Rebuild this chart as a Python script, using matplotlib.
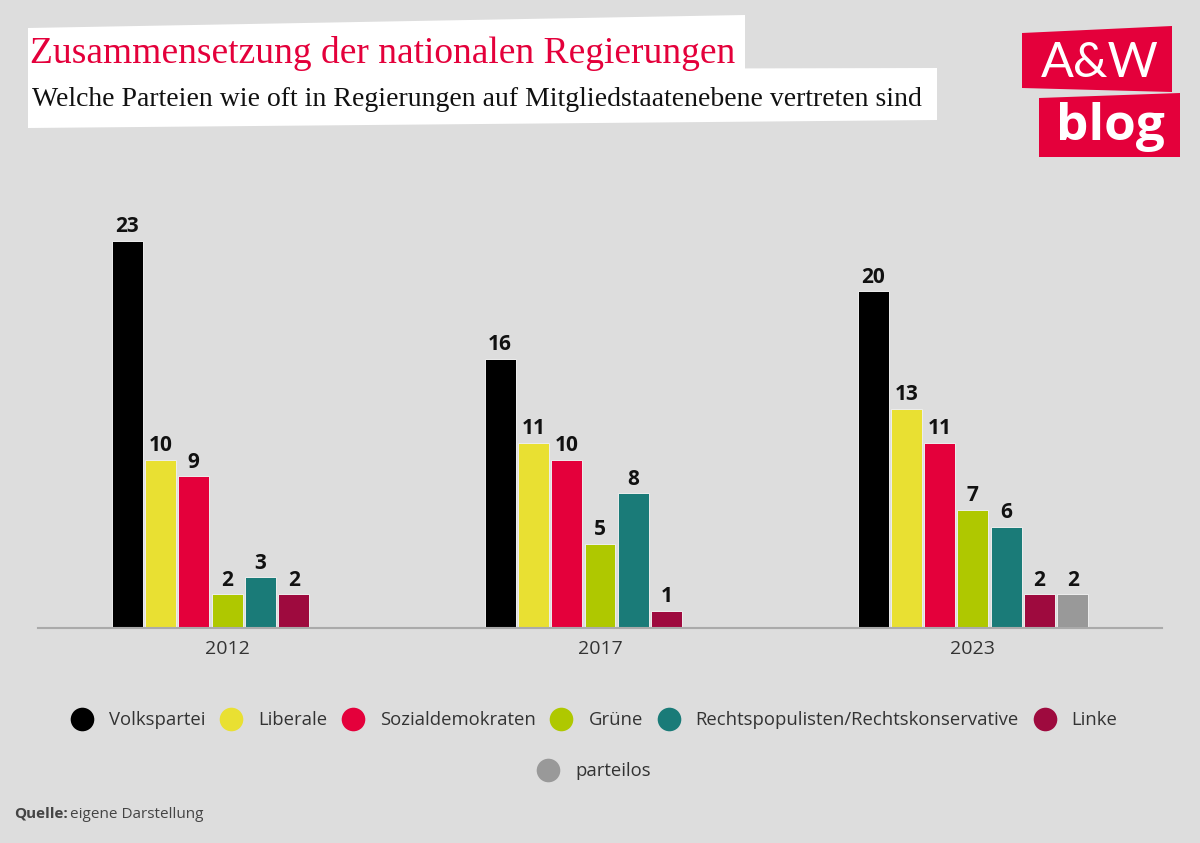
# Zusammensetzung der nationalen Regierungen - grouped bars
import matplotlib.pyplot as plt
from matplotlib.patches import Polygon
from matplotlib.lines import Line2D
import numpy as np

# data
years = ['2012', '2017', '2023']
parties = ['Volkspartei', 'Liberale', 'Sozialdemokraten', 'Grüne',
           'Rechtspopulisten/Rechtskonservative', 'Linke', 'parteilos']
volkspartei = [23, 16, 20]
liberale = [10, 11, 13]
sozialdemokraten = [9, 10, 11]
gruene = [2, 5, 7]
rechtspop = [3, 8, 6]
linke = [2, 1, 2]
parteilos = [0, 0, 2]
series = [volkspartei, liberale, sozialdemokraten, gruene, rechtspop, linke, parteilos]
colors = ['#000000', '#e9e032', '#e4003b', '#afc800', '#1a7b78', '#9e0a3e', '#999999']

bg = '#dddddd'
plt.rcParams['font.family'] = ['Open Sans', 'DejaVu Sans']

fig = plt.figure(figsize=(12, 8.43), dpi=100, facecolor=bg)

# overlay in pixel coords for header, logo, source
ov = fig.add_axes([0, 0, 1, 1], zorder=0)
ov.set_xlim(0, 1200)
ov.set_ylim(843, 0)
ov.axis('off')

ov.add_patch(Polygon([(28, 28), (745, 15), (745, 72), (28, 72)], closed=True,
                     facecolor='white', edgecolor='none'))
ov.add_patch(Polygon([(28, 70), (937, 68), (937, 120), (28, 128)], closed=True,
                     facecolor='white', edgecolor='none'))
ov.text(30, 63, 'Zusammensetzung der nationalen Regierungen', color='#e4003b',
        fontsize=27, family='Liberation Serif', va='baseline', ha='left')
ov.text(32, 106, 'Welche Parteien wie oft in Regierungen auf Mitgliedstaatenebene vertreten sind',
        color='#111111', fontsize=20, family='Liberation Serif', va='baseline', ha='left')

# logo
ov.add_patch(Polygon([(1022, 33), (1172, 26), (1172, 92), (1022, 88)], closed=True,
                     facecolor='#e4003b', edgecolor='none'))
ov.add_patch(Polygon([(1039, 98), (1180, 93), (1180, 157), (1039, 157)], closed=True,
                     facecolor='#e4003b', edgecolor='none'))
ov.text(1100, 63, 'A&W', color='white', fontsize=35, family='Lato', fontweight='normal',
        ha='center', va='center')
ov.text(1110, 127, 'blog', color='white', fontsize=37, family='Open Sans', fontweight='bold',
        ha='center', va='center')

# source
ov.text(14, 818, 'Quelle:', color='#444444', fontsize=11, fontweight='bold',
        ha='left', va='baseline')
ov.text(70, 818, 'eigene Darstellung', color='#444444', fontsize=11,
        ha='left', va='baseline')

# main chart
ax = fig.add_axes([38 / 1200, (843 - 628) / 843, 1124 / 1200, 468 / 843], zorder=1)
ax.patch.set_visible(False)

x = np.arange(len(years))
slot = 0.0893
for i, (vals, c) in enumerate(zip(series, colors)):
    pos = x + (i - 3) * slot
    for p, v in zip(pos, vals):
        if v == 0:
            continue
        ax.bar(p, v, width=slot * 0.93, color=c, edgecolor='#eeeeee', linewidth=0.7)
        ax.text(p, v + 0.22, str(v), ha='center', va='bottom', fontsize=15,
                fontweight='bold', color='#111111')

ax.set_xlim(-0.507, 2.507)
ax.set_ylim(0, 27.8)
ax.set_xticks(x)
ax.set_xticklabels(years, fontsize=14, color='#333333')
ax.tick_params(axis='x', length=0, pad=9)
ax.set_yticks([])
for s in ['top', 'right', 'left']:
    ax.spines[s].set_visible(False)
ax.spines['bottom'].set_color('#aaaaaa')
ax.spines['bottom'].set_linewidth(1.5)

# legend
handles = [Line2D([], [], marker='o', linestyle='none', markersize=17,
                  markerfacecolor=c, markeredgecolor='none') for c in colors]
leg_kw = dict(loc='center', frameon=False, fontsize=13.3, handlelength=1.0,
              handletextpad=0.96, columnspacing=0.9, labelcolor='#333333')
fig.legend(handles[:6], parties[:6], bbox_to_anchor=(595 / 1200, 1 - 720 / 843),
           ncol=6, **leg_kw)
fig.legend(handles[6:], parties[6:], bbox_to_anchor=(595 / 1200, 1 - 771 / 843),
           ncol=1, **leg_kw)

plt.savefig('out.png', dpi=100, facecolor=bg)
